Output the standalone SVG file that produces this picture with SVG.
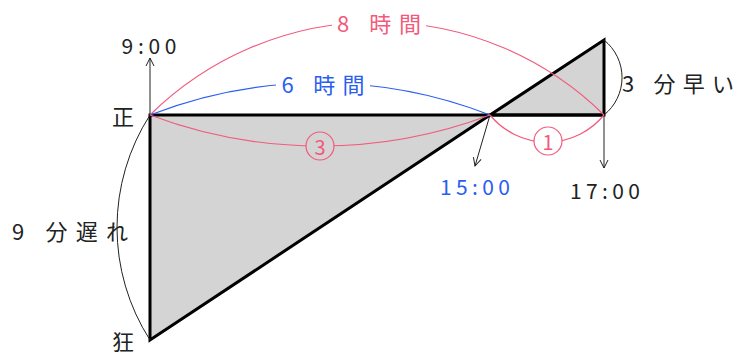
<svg xmlns="http://www.w3.org/2000/svg" width="756" height="356" viewBox="0 0 756 356">
<style>
.t{font-family:"Noto Sans CJK JP","Noto Sans",sans-serif;font-size:22px;dominant-baseline:central;text-anchor:middle}
.d{font-size:21px}
.k{fill:#222}
.p{fill:#f25a7c}
.b{fill:#2a5ef0}
.arcP{fill:none;stroke:#f25a7c;stroke-width:1.2}
.arcB{fill:none;stroke:#2a5ef0;stroke-width:1.2}
.arcK{fill:none;stroke:#222;stroke-width:1}
.ax{fill:none;stroke:#222;stroke-width:1;marker-end:url(#ah)}
.tri{fill:#d4d4d4;stroke:#000;stroke-width:3;stroke-linejoin:miter}
</style>
<defs>
<marker id="ah" viewBox="0 0 10 10" refX="9" refY="5" markerWidth="10" markerHeight="10" markerUnits="userSpaceOnUse" orient="auto">
<path d="M1,1 L9,5 L1,9" fill="none" stroke="#222" stroke-width="1"/>
</marker>
</defs>
<g id="triangles">
<polygon class="tri" points="150,115 150,340 490,115"/>
<polygon class="tri" points="490,115 604,40 604,115"/>
<line x1="490" y1="115" x2="604" y2="115" stroke="#000" stroke-width="3"/>
</g>
<g id="connectors">
<line class="ax" x1="150" y1="115" x2="150" y2="58"/>
<line class="ax" x1="490" y1="115" x2="475" y2="166"/>
<line class="ax" x1="604" y1="115" x2="604" y2="168"/>
<path class="arcP" d="M150,115 A323.5,323.5 0 0 1 604,115"/>
<path class="arcB" d="M150,115 A467.6,467.6 0 0 1 490,115"/>
<path class="arcP" d="M150,115 A481.6,481.6 0 0 0 490,115"/>
<path class="arcP" d="M490,115 A73.7,73.7 0 0 0 604,115"/>
<path class="arcK" d="M604,40 A48,48 0 0 1 604,115"/>
<path class="arcK" d="M150,115 A208.3,208.3 0 0 0 150,340"/>
</g>
<g id="label-8h">
<rect x="332" y="9" width="94" height="28" fill="#fff"/>
<text class="t p" x="379" y="22" textLength="84" lengthAdjust="spacing">8 時間</text>
</g>
<g id="label-6h">
<rect x="276" y="70" width="94" height="28" fill="#fff"/>
<text class="t b" x="323" y="83" textLength="83" lengthAdjust="spacing">6 時間</text>
</g>
<g id="label-3">
<circle cx="320" cy="146" r="14" fill="#d4d4d4" stroke="#f25a7c" stroke-width="1.2"/>
<text class="t p" x="320" y="146" style="font-size:20px">3</text>
</g>
<g id="label-1">
<circle cx="548" cy="141" r="14" fill="#fff" stroke="#f25a7c" stroke-width="1.2"/>
<text class="t p" x="548" y="141" style="font-size:20px">1</text>
</g>
<g id="label-900">
<text class="t d k" x="149" y="45" textLength="55" lengthAdjust="spacing">9:00</text>
</g>
<g id="label-sei">
<text class="t k" x="123" y="115">正</text>
</g>
<g id="label-kyo">
<text class="t k" x="123" y="340">狂</text>
</g>
<g id="label-1500">
<text class="t d b" x="475" y="186" textLength="70" lengthAdjust="spacing">15:00</text>
</g>
<g id="label-1700">
<text class="t d k" x="605" y="190" textLength="70" lengthAdjust="spacing">17:00</text>
</g>
<g id="label-early">
<text class="t k" x="678" y="82" textLength="112" lengthAdjust="spacing">3 分早い</text>
</g>
<g id="label-late">
<text class="t k" x="70" y="230" textLength="116" lengthAdjust="spacing">9 分遅れ</text>
</g>
</svg>
